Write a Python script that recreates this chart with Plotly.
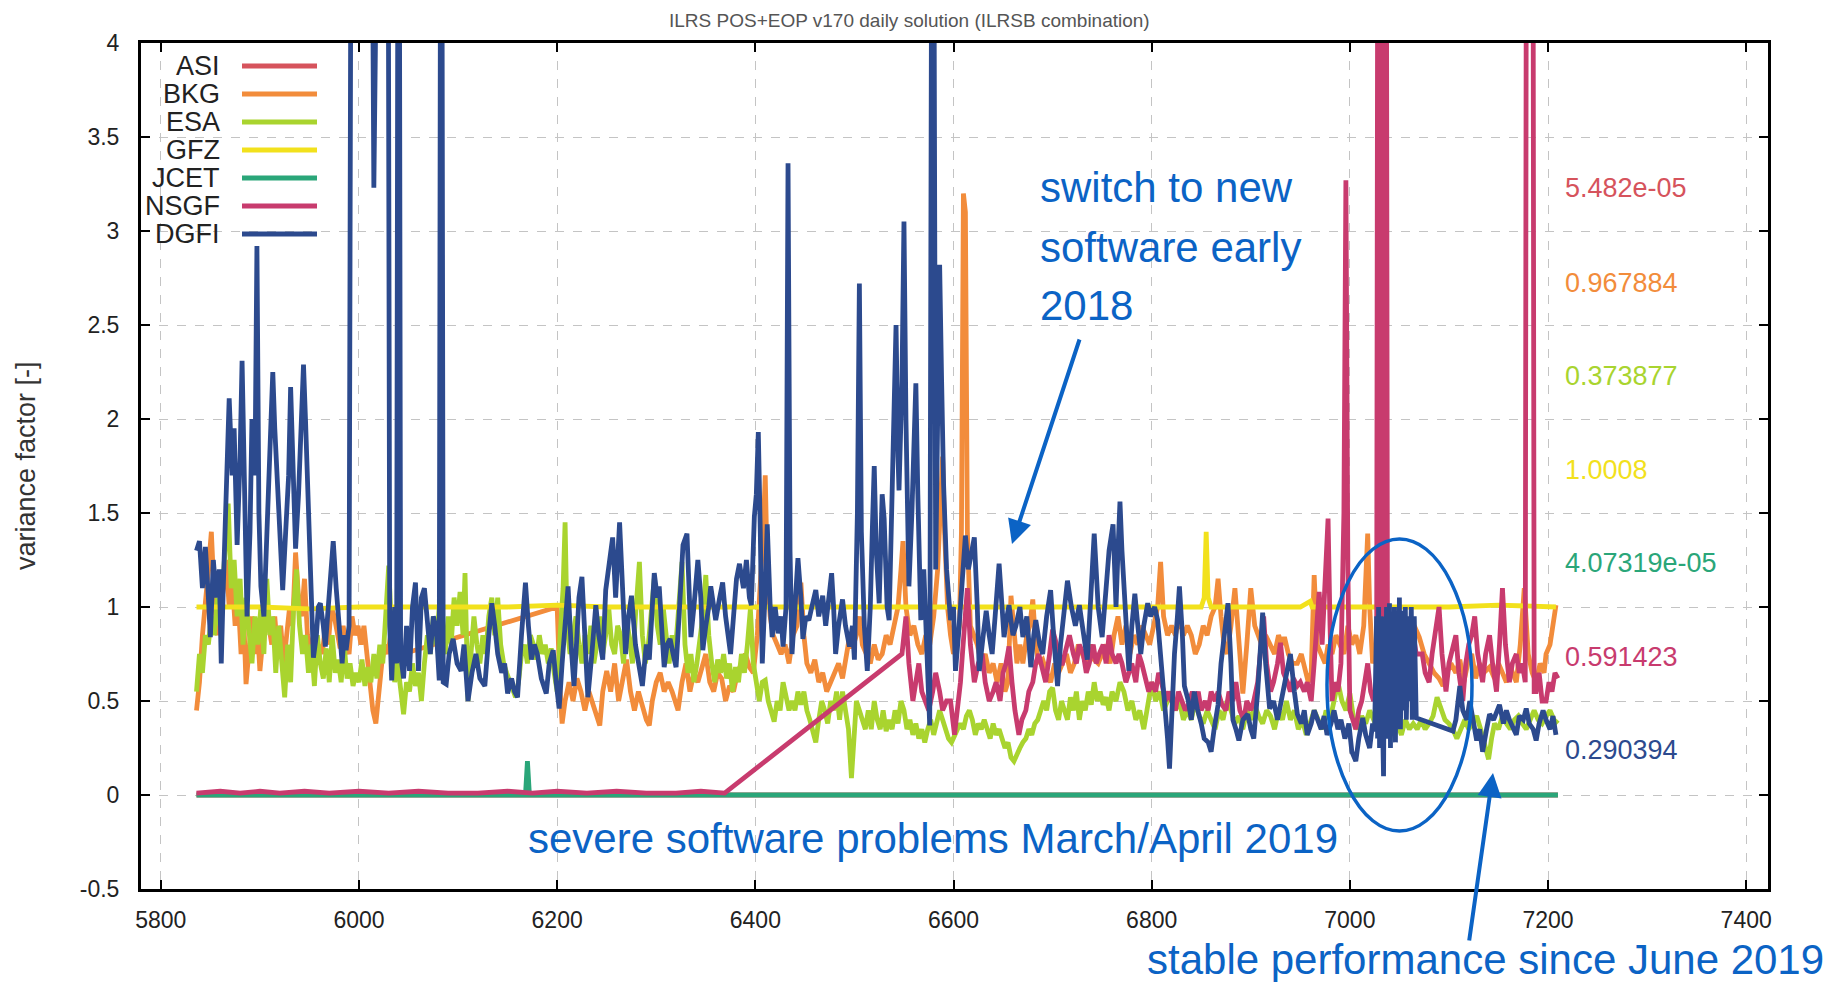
import plotly.graph_objects as go

# ---------------- data (day, variance factor) ----------------
series_names = ["ASI", "BKG", "ESA", "GFZ", "JCET", "NSGF", "DGFI"]
series_colors = ["#d6535c", "#f28c3b", "#a9d42f", "#f2e11c", "#2aa679", "#c83b6e", "#2c4a8e"]
right_labels = ["5.482e-05", "0.967884", "0.373877", "1.0008", "4.07319e-05", "0.591423", "0.290394"]
x_ticks = [5800, 6000, 6200, 6400, 6600, 6800, 7000, 7200, 7400]
y_ticks = [-0.5, 0, 0.5, 1, 1.5, 2, 2.5, 3, 3.5, 4]

asi = [(5836, 0.0), (6400, 0.0), (7210, 0.0)]

jcet = [(5836, 0.0), (6168, 0.0), (6170, 0.18), (6172, 0.0), (7210, 0.0)]

gfz = [(5836, 1.00), (5900, 1.00), (5950, 0.99), (6000, 1.00), (6050, 1.00), (6100, 1.00),
       (6150, 1.00), (6200, 1.01), (6250, 1.00), (6300, 1.00), (6350, 1.00), (6400, 1.00),
       (6450, 1.00), (6500, 1.00), (6550, 1.00), (6600, 1.00), (6650, 1.00), (6700, 1.00),
       (6750, 1.00), (6800, 1.00), (6850, 1.00), (6853, 1.05), (6855, 1.40), (6857, 1.05),
       (6860, 1.00), (6900, 1.00), (6950, 1.00), (6960, 1.03), (6962, 1.00), (7000, 1.00),
       (7050, 1.00), (7100, 1.00), (7150, 1.01), (7200, 1.00), (7208, 1.00)]

bkg = [(5836, 0.45), (5839, 0.60), (5842, 0.85), (5845, 1.00), (5848, 1.20), (5851, 1.40),
       (5854, 1.05), (5857, 0.85), (5860, 0.95), (5863, 1.10), (5866, 1.25), (5869, 1.00),
       (5872, 1.15), (5875, 0.90), (5878, 1.05), (5881, 0.75), (5884, 0.90), (5886, 0.59),
       (5889, 0.80), (5892, 0.95), (5895, 0.75), (5898, 0.85), (5900, 0.66), (5903, 0.85),
       (5906, 1.00), (5909, 0.90), (5912, 0.80), (5915, 0.95), (5918, 0.75), (5921, 0.90),
       (5924, 0.70), (5927, 0.85), (5930, 1.00), (5933, 0.90), (5936, 1.29), (5939, 1.05),
       (5942, 0.95), (5945, 1.15), (5948, 0.85), (5951, 0.75), (5954, 0.85), (5957, 0.70),
       (5960, 0.80), (5963, 0.75), (5966, 0.90), (5969, 0.80), (5972, 1.00), (5975, 0.95),
       (5978, 0.85), (5981, 0.78), (5984, 0.90), (5987, 0.80), (5990, 0.75), (5993, 0.95),
       (5996, 0.85), (5999, 0.90), (6002, 0.80), (6005, 0.90), (6008, 0.75), (6011, 0.60),
       (6014, 0.45), (6017, 0.38), (6020, 0.55), (6023, 0.70), (6026, 0.80), (6029, 0.75),
       (6032, 0.85), (6035, 0.70), (6038, 0.80), (6041, 0.65), (6044, 0.75), (6200, 1.00),
       (6203, 0.55), (6205, 0.38), (6208, 0.50), (6212, 0.60), (6216, 0.50), (6220, 0.62),
       (6224, 0.55), (6228, 0.45), (6232, 0.55), (6236, 0.48), (6240, 0.42), (6243, 0.37),
       (6246, 0.55), (6250, 0.66), (6254, 0.55), (6258, 0.70), (6262, 0.50), (6266, 0.60),
       (6270, 0.72), (6274, 0.55), (6278, 0.45), (6282, 0.55), (6286, 0.48), (6290, 0.40),
       (6293, 0.37), (6296, 0.50), (6300, 0.60), (6304, 0.65), (6308, 0.55), (6312, 0.60),
       (6316, 0.55), (6320, 0.48), (6322, 0.45), (6326, 0.60), (6330, 0.70), (6334, 0.55),
       (6338, 0.65), (6342, 0.60), (6346, 0.68), (6350, 0.75), (6354, 0.60), (6358, 0.55),
       (6362, 0.65), (6366, 0.62), (6370, 0.50), (6374, 0.58), (6378, 0.55), (6382, 0.65),
       (6386, 0.70), (6390, 0.75), (6394, 0.68), (6398, 0.65), (6402, 0.85), (6405, 1.10),
       (6408, 1.40), (6410, 1.70), (6412, 1.20), (6415, 0.95), (6418, 0.85), (6422, 0.80),
       (6426, 0.75), (6430, 0.80), (6434, 0.70), (6438, 0.85), (6442, 0.90), (6446, 1.13),
       (6449, 0.85), (6452, 0.70), (6456, 0.65), (6460, 0.72), (6464, 0.60), (6468, 0.65),
       (6472, 0.55), (6476, 0.60), (6480, 0.65), (6484, 0.70), (6488, 0.62), (6492, 0.75),
       (6495, 0.84), (6498, 0.78), (6502, 0.85), (6505, 0.95), (6508, 0.80), (6512, 0.75),
       (6516, 0.70), (6520, 0.80), (6524, 0.72), (6528, 0.75), (6532, 0.85), (6536, 0.80),
       (6540, 0.90), (6544, 1.00), (6547, 1.20), (6549, 1.35), (6552, 1.00), (6556, 0.85),
       (6560, 0.90), (6564, 0.80), (6568, 0.75), (6572, 0.85), (6576, 0.80), (6580, 0.95),
       (6584, 1.20), (6587, 1.50), (6589, 1.80), (6591, 1.40), (6594, 1.00), (6597, 0.85),
       (6600, 0.75), (6603, 0.80), (6606, 0.90), (6608, 1.40), (6610, 3.20), (6612, 3.10),
       (6614, 1.40), (6617, 0.90), (6620, 0.85), (6624, 0.80), (6628, 0.70), (6632, 0.75),
       (6636, 0.65), (6640, 0.70), (6644, 0.60), (6648, 0.70), (6652, 0.55), (6655, 0.60),
       (6658, 1.06), (6661, 0.85), (6664, 0.70), (6667, 0.80), (6670, 0.70), (6674, 0.85),
       (6677, 0.90), (6680, 1.04), (6683, 0.80), (6686, 0.70), (6690, 0.72), (6694, 0.65),
       (6698, 0.60), (6702, 0.70), (6706, 0.65), (6710, 0.70), (6714, 0.75), (6718, 0.65),
       (6722, 0.70), (6726, 0.80), (6730, 0.75), (6734, 0.70), (6738, 0.80), (6742, 0.72),
       (6746, 0.70), (6750, 0.75), (6754, 0.80), (6758, 0.70), (6762, 0.85), (6766, 0.95),
       (6770, 0.80), (6774, 0.90), (6778, 0.75), (6782, 0.85), (6786, 0.80), (6790, 0.90),
       (6794, 0.85), (6798, 0.80), (6802, 0.90), (6806, 1.00), (6809, 1.24), (6812, 0.95),
       (6816, 0.85), (6820, 0.90), (6824, 0.85), (6828, 0.95), (6832, 0.85), (6836, 0.90),
       (6840, 0.85), (6844, 0.75), (6848, 0.80), (6852, 0.90), (6856, 0.85), (6860, 0.95),
       (6864, 1.00), (6867, 1.15), (6870, 0.95), (6873, 0.80), (6876, 0.75), (6880, 0.90),
       (6884, 1.10), (6888, 0.80), (6892, 0.54), (6896, 0.80), (6900, 1.10), (6904, 0.90),
       (6907, 0.85), (6911, 0.80), (6915, 0.85), (6920, 0.80), (6924, 0.75), (6928, 0.85),
       (6932, 0.80), (6934, 0.84), (6938, 0.75), (6942, 0.70), (6947, 0.70), (6951, 0.75),
       (6955, 0.65), (6958, 0.60), (6961, 0.65), (6964, 1.17), (6967, 0.80), (6971, 0.75),
       (6975, 0.70), (6978, 0.80), (6982, 0.75), (6986, 0.85), (6990, 0.80), (6994, 0.75),
       (6998, 0.90), (7002, 0.80), (7006, 0.85), (7010, 0.75), (7014, 0.90), (7018, 1.39),
       (7020, 1.00), (7023, 0.70), (7027, 0.80), (7032, 0.85), (7036, 0.90), (7040, 0.80),
       (7045, 0.85), (7050, 0.90), (7055, 0.80), (7060, 0.85), (7065, 0.90), (7070, 0.84),
       (7075, 0.75), (7080, 0.70), (7085, 0.65), (7090, 0.62), (7094, 0.58), (7098, 0.65),
       (7102, 0.70), (7107, 0.65), (7111, 0.72), (7115, 0.60), (7119, 0.70), (7123, 0.75),
       (7127, 0.62), (7131, 0.70), (7135, 0.65), (7141, 0.68), (7146, 0.62), (7150, 0.70),
       (7154, 0.65), (7158, 0.60), (7162, 0.68), (7168, 0.60), (7172, 0.80), (7176, 1.10),
       (7180, 0.75), (7184, 0.65), (7188, 0.60), (7192, 0.70), (7196, 0.65), (7198, 0.75),
       (7202, 0.80), (7205, 0.90), (7208, 1.01)]

esa = [(5836, 0.55), (5839, 0.75), (5842, 0.65), (5845, 0.85), (5848, 0.80), (5851, 0.95),
       (5854, 0.85), (5857, 1.05), (5860, 0.90), (5863, 1.20), (5866, 1.40), (5868, 1.55),
       (5871, 1.10), (5874, 1.25), (5877, 0.95), (5880, 1.15), (5883, 0.80), (5886, 1.05),
       (5889, 0.90), (5892, 0.70), (5895, 0.95), (5898, 0.80), (5901, 1.00), (5904, 0.75),
       (5907, 1.15), (5910, 0.85), (5913, 0.95), (5916, 0.65), (5919, 0.90), (5922, 0.70),
       (5925, 0.52), (5928, 0.80), (5931, 0.60), (5934, 1.00), (5937, 1.20), (5940, 0.90),
       (5943, 0.75), (5946, 0.85), (5949, 0.65), (5952, 0.80), (5955, 0.58), (5958, 0.85),
       (5961, 0.70), (5964, 0.62), (5967, 0.78), (5970, 0.60), (5973, 0.85), (5976, 0.65),
       (5979, 0.72), (5982, 0.60), (5985, 0.80), (5988, 0.62), (5991, 0.70), (5994, 0.58),
       (5997, 0.65), (6000, 0.60), (6003, 0.72), (6006, 0.58), (6009, 0.68), (6012, 0.60),
       (6015, 0.75), (6018, 0.62), (6021, 0.80), (6024, 0.70), (6027, 0.95), (6030, 1.22),
       (6033, 0.85), (6036, 0.60), (6039, 0.70), (6042, 0.55), (6045, 0.43), (6048, 0.60),
       (6051, 0.55), (6054, 0.70), (6057, 0.58), (6060, 0.65), (6063, 0.50), (6066, 0.70),
       (6069, 0.85), (6072, 0.75), (6075, 0.95), (6078, 0.80), (6081, 1.00), (6084, 0.85),
       (6087, 0.75), (6090, 0.95), (6093, 0.80), (6096, 1.05), (6099, 0.90), (6102, 1.08),
       (6105, 0.85), (6107, 1.18), (6110, 0.50), (6113, 0.75), (6116, 0.95), (6119, 0.80),
       (6122, 0.70), (6125, 0.85), (6128, 0.75), (6131, 0.95), (6134, 1.05), (6137, 0.85),
       (6140, 1.05), (6143, 0.80), (6146, 0.70), (6149, 0.65), (6152, 0.60), (6155, 0.55),
       (6158, 0.52), (6161, 0.60), (6164, 0.75), (6167, 0.80), (6170, 0.70), (6173, 0.85),
       (6176, 0.80), (6179, 0.72), (6182, 0.85), (6185, 0.75), (6188, 0.80), (6191, 0.70),
       (6194, 0.78), (6197, 0.65), (6200, 0.55), (6203, 0.85), (6206, 1.10), (6208, 1.45),
       (6210, 0.90), (6213, 0.75), (6216, 0.85), (6219, 0.95), (6222, 0.80), (6225, 0.70),
       (6228, 0.85), (6231, 0.75), (6234, 0.90), (6237, 0.70), (6240, 0.80), (6243, 0.95),
       (6246, 0.75), (6249, 0.85), (6252, 1.00), (6255, 0.80), (6258, 0.75), (6261, 0.90),
       (6264, 0.85), (6267, 0.70), (6270, 0.95), (6273, 0.80), (6276, 0.70), (6279, 0.95),
       (6283, 1.24), (6286, 0.85), (6289, 0.70), (6292, 0.80), (6295, 0.95), (6298, 1.15),
       (6301, 0.90), (6304, 0.80), (6307, 1.00), (6310, 0.84), (6313, 0.70), (6316, 0.85),
       (6319, 0.75), (6322, 0.95), (6326, 1.24), (6329, 0.80), (6332, 0.65), (6335, 0.75),
       (6338, 0.60), (6341, 0.70), (6344, 0.85), (6347, 0.95), (6350, 1.17), (6353, 0.85),
       (6356, 0.70), (6359, 0.60), (6362, 0.72), (6365, 0.65), (6368, 0.75), (6371, 0.62),
       (6374, 0.70), (6377, 0.55), (6380, 0.68), (6383, 0.60), (6386, 0.75), (6389, 0.65),
       (6392, 0.80), (6395, 0.99), (6398, 0.70), (6401, 0.60), (6404, 0.50), (6407, 0.60),
       (6410, 0.61), (6413, 0.50), (6416, 0.45), (6419, 0.39), (6422, 0.50), (6425, 0.45),
       (6428, 0.60), (6431, 0.52), (6434, 0.45), (6437, 0.50), (6440, 0.45), (6443, 0.55),
       (6446, 0.48), (6449, 0.55), (6452, 0.45), (6455, 0.40), (6458, 0.35), (6461, 0.28),
       (6464, 0.40), (6467, 0.50), (6470, 0.45), (6473, 0.38), (6476, 0.50), (6479, 0.45),
       (6482, 0.55), (6485, 0.40), (6488, 0.55), (6491, 0.45), (6494, 0.35), (6497, 0.09),
       (6499, 0.30), (6502, 0.50), (6505, 0.45), (6508, 0.40), (6511, 0.35), (6514, 0.45),
       (6517, 0.35), (6520, 0.50), (6523, 0.40), (6526, 0.35), (6529, 0.45), (6532, 0.34),
       (6535, 0.40), (6538, 0.35), (6541, 0.45), (6544, 0.38), (6547, 0.50), (6550, 0.45),
       (6553, 0.35), (6556, 0.40), (6559, 0.32), (6562, 0.38), (6565, 0.30), (6568, 0.35),
       (6571, 0.28), (6574, 0.35), (6577, 0.40), (6580, 0.32), (6583, 0.38), (6586, 0.45),
       (6589, 0.40), (6592, 0.35), (6595, 0.30), (6598, 0.28), (6601, 0.32), (6604, 0.35),
       (6607, 0.38), (6610, 0.35), (6613, 0.42), (6616, 0.45), (6619, 0.40), (6622, 0.32),
       (6625, 0.38), (6628, 0.35), (6631, 0.40), (6634, 0.35), (6637, 0.30), (6640, 0.38),
       (6643, 0.32), (6646, 0.35), (6649, 0.30), (6652, 0.25), (6655, 0.28), (6658, 0.20),
       (6661, 0.18), (6664, 0.22), (6667, 0.25), (6670, 0.28), (6673, 0.30), (6676, 0.35),
       (6679, 0.32), (6682, 0.38), (6685, 0.40), (6688, 0.45), (6691, 0.50), (6694, 0.45),
       (6697, 0.55), (6700, 0.57), (6703, 0.45), (6706, 0.40), (6709, 0.50), (6712, 0.45),
       (6715, 0.40), (6718, 0.52), (6721, 0.45), (6724, 0.55), (6727, 0.40), (6730, 0.50),
       (6733, 0.45), (6736, 0.55), (6739, 0.48), (6742, 0.60), (6745, 0.50), (6748, 0.55),
       (6751, 0.48), (6754, 0.52), (6757, 0.45), (6760, 0.55), (6764, 0.50), (6768, 0.60),
       (6772, 0.55), (6776, 0.45), (6780, 0.50), (6784, 0.40), (6788, 0.45), (6792, 0.35),
       (6796, 0.48), (6800, 0.60), (6804, 0.50), (6808, 0.55), (6812, 0.45), (6816, 0.50),
       (6820, 0.55), (6824, 0.45), (6828, 0.50), (6832, 0.40), (6836, 0.45), (6840, 0.40),
       (6844, 0.50), (6848, 0.42), (6852, 0.38), (6856, 0.45), (6860, 0.40), (6864, 0.35),
       (6868, 0.45), (6872, 0.40), (6876, 0.50), (6880, 0.45), (6884, 0.38), (6888, 0.42),
       (6892, 0.35), (6896, 0.45), (6900, 0.40), (6904, 0.48), (6908, 0.42), (6912, 0.38),
       (6916, 0.45), (6920, 0.42), (6924, 0.35), (6928, 0.45), (6932, 0.40), (6936, 0.50),
       (6940, 0.40), (6944, 0.45), (6948, 0.35), (6952, 0.40), (6956, 0.32), (6960, 0.38),
       (6964, 0.45), (6968, 0.40), (6972, 0.35), (6976, 0.45), (6980, 0.40), (6984, 0.50),
       (6988, 0.60), (6992, 0.50), (6996, 0.45), (7000, 0.54), (7004, 0.40), (7008, 0.35),
       (7012, 0.42), (7016, 0.38), (7020, 0.45), (7024, 0.40), (7028, 0.35), (7032, 0.40),
       (7036, 0.38), (7040, 0.42), (7044, 0.35), (7048, 0.38), (7052, 0.32), (7056, 0.40),
       (7060, 0.35), (7064, 0.38), (7068, 0.35), (7072, 0.40), (7076, 0.35), (7080, 0.38),
       (7084, 0.42), (7088, 0.52), (7092, 0.45), (7096, 0.40), (7100, 0.38), (7104, 0.35),
       (7108, 0.30), (7112, 0.35), (7116, 0.40), (7120, 0.35), (7124, 0.38), (7128, 0.42),
       (7132, 0.35), (7136, 0.28), (7140, 0.19), (7143, 0.30), (7146, 0.38), (7150, 0.35),
       (7154, 0.42), (7158, 0.38), (7162, 0.35), (7166, 0.40), (7170, 0.42), (7174, 0.38),
       (7178, 0.35), (7182, 0.40), (7186, 0.45), (7190, 0.40), (7194, 0.38), (7198, 0.42),
       (7202, 0.45), (7206, 0.40), (7210, 0.38)]

nsgf = [(5836, 0.01), (5860, 0.02), (5880, 0.01), (5900, 0.02), (5920, 0.01), (5945, 0.02),
        (5970, 0.01), (6000, 0.02), (6030, 0.01), (6060, 0.02), (6090, 0.01), (6120, 0.01),
        (6150, 0.02), (6175, 0.01), (6200, 0.02), (6230, 0.01), (6260, 0.02), (6290, 0.01),
        (6320, 0.01), (6345, 0.02), (6369, 0.01), (6548, 0.75), (6550, 0.85), (6552, 0.95),
        (6555, 0.70), (6559, 0.50), (6562, 0.60), (6565, 0.70), (6568, 0.55), (6572, 0.50),
        (6575, 0.45), (6579, 0.55), (6582, 0.65), (6586, 0.55), (6589, 0.45), (6593, 0.50),
        (6597, 0.50), (6601, 0.32), (6604, 0.45), (6607, 0.60), (6609, 0.75), (6612, 0.95),
        (6614, 1.10), (6617, 0.80), (6621, 0.60), (6625, 0.70), (6629, 0.75), (6632, 0.60),
        (6636, 0.50), (6640, 0.55), (6643, 0.60), (6647, 0.50), (6650, 0.65), (6653, 0.70),
        (6656, 0.79), (6659, 0.60), (6662, 0.45), (6666, 0.32), (6669, 0.40), (6673, 0.45),
        (6676, 0.55), (6680, 0.60), (6683, 0.70), (6686, 0.75), (6690, 0.65), (6693, 0.60),
        (6697, 0.75), (6700, 0.88), (6704, 0.80), (6707, 0.70), (6710, 0.70), (6714, 0.80),
        (6717, 0.85), (6721, 0.75), (6724, 0.70), (6727, 0.80), (6731, 0.75), (6734, 0.65),
        (6737, 0.70), (6741, 0.80), (6744, 0.70), (6747, 0.75), (6751, 0.80), (6754, 0.70),
        (6757, 0.85), (6760, 0.75), (6764, 0.70), (6767, 0.75), (6770, 0.70), (6774, 0.60),
        (6777, 0.65), (6780, 0.70), (6784, 0.60), (6787, 0.75), (6790, 0.70), (6794, 0.60),
        (6797, 0.55), (6800, 0.60), (6804, 0.55), (6807, 0.65), (6810, 0.60), (6814, 0.50),
        (6817, 0.55), (6820, 0.50), (6824, 0.45), (6827, 0.55), (6830, 0.50), (6834, 0.45),
        (6837, 0.48), (6841, 0.55), (6844, 0.50), (6847, 0.55), (6850, 0.45), (6854, 0.50),
        (6857, 0.45), (6860, 0.55), (6864, 0.50), (6867, 0.55), (6871, 0.48), (6875, 0.45),
        (6878, 0.55), (6882, 0.50), (6885, 0.60), (6889, 0.45), (6893, 0.40), (6896, 0.50),
        (6900, 0.45), (6903, 0.50), (6907, 0.60), (6910, 0.75), (6913, 0.95), (6916, 0.70),
        (6920, 0.55), (6923, 0.60), (6927, 0.70), (6930, 0.81), (6933, 0.65), (6937, 0.60),
        (6940, 0.55), (6943, 0.62), (6947, 0.58), (6950, 0.60), (6954, 0.55), (6957, 0.60),
        (6961, 0.50), (6964, 0.70), (6967, 0.90), (6969, 1.08), (6972, 0.80), (6975, 1.20),
        (6978, 1.47), (6980, 0.90), (6982, 0.50), (6985, 0.60), (6988, 0.55), (6991, 0.70),
        (6994, 1.50), (6996, 3.27), (6998, 1.20), (7000, 0.45), (7003, 0.40), (7006, 0.35),
        (7009, 0.45), (7012, 0.50), (7015, 0.60), (7018, 0.70), (7021, 0.55), (7024, 0.50),
        (7027, 0.60), (7029, 8.00), (7031, 0.60), (7034, 0.70), (7036, 8.00), (7038, 0.60),
        (7040, 0.75), (7043, 0.65), (7046, 0.80), (7049, 0.70), (7052, 0.85), (7055, 0.75),
        (7058, 0.80), (7061, 0.70), (7064, 0.85), (7067, 0.75), (7070, 0.75), (7073, 0.75),
        (7076, 0.65), (7080, 0.60), (7083, 0.75), (7086, 0.85), (7090, 1.00), (7093, 0.75),
        (7097, 0.55), (7100, 0.70), (7104, 0.80), (7107, 0.85), (7110, 0.65), (7114, 0.50),
        (7117, 0.70), (7120, 0.80), (7123, 0.85), (7126, 0.95), (7129, 0.75), (7132, 0.65),
        (7134, 0.60), (7137, 0.75), (7141, 0.85), (7144, 0.70), (7148, 0.55), (7151, 0.80),
        (7154, 1.10), (7157, 0.80), (7161, 0.60), (7164, 0.70), (7168, 0.75), (7171, 0.65),
        (7174, 0.70), (7177, 0.60), (7179, 8.00), (7184, 8.00), (7186, 0.55), (7188, 0.55),
        (7191, 0.65), (7194, 0.50), (7198, 0.50), (7201, 0.60), (7204, 0.55), (7207, 0.65),
        (7210, 0.62)]

dgfi = [(5836, 1.30), (5839, 1.35), (5842, 1.10), (5845, 1.32), (5848, 1.05), (5850, 0.84),
        (5853, 1.25), (5856, 1.05), (5859, 1.20), (5861, 0.70), (5863, 1.10), (5866, 1.60),
        (5869, 2.11), (5872, 1.70), (5874, 1.95), (5877, 1.33), (5880, 1.80), (5882, 2.31),
        (5885, 1.50), (5887, 0.95), (5890, 1.40), (5892, 2.00), (5895, 1.70), (5897, 2.92),
        (5899, 1.50), (5901, 1.11), (5904, 0.95), (5907, 1.40), (5909, 1.69), (5911, 1.90),
        (5913, 2.25), (5915, 1.95), (5917, 1.74), (5920, 1.30), (5923, 1.09), (5926, 1.40),
        (5929, 1.70), (5931, 2.17), (5934, 1.70), (5936, 1.31), (5939, 1.60), (5942, 2.00),
        (5944, 2.29), (5946, 2.00), (5948, 1.73), (5951, 1.20), (5954, 0.73), (5957, 0.85),
        (5959, 1.00), (5961, 1.02), (5964, 0.90), (5966, 0.79), (5969, 1.00), (5972, 1.20),
        (5974, 1.35), (5977, 1.10), (5980, 0.93), (5983, 0.70), (5985, 0.85), (5987, 0.77),
        (5990, 0.90), (5993, 7.00), (5998, 8.00), (6005, 7.00), (6012, 6.00), (6015, 3.23),
        (6018, 7.00), (6025, 8.00), (6029, 6.00), (6031, 0.90), (6033, 0.61), (6036, 1.00),
        (6038, 0.70), (6040, 7.00), (6042, 0.75), (6045, 0.62), (6048, 0.90), (6051, 0.66),
        (6054, 1.00), (6057, 1.13), (6060, 0.66), (6063, 1.05), (6066, 1.10), (6069, 0.93),
        (6072, 0.75), (6075, 0.95), (6078, 0.88), (6081, 0.61), (6083, 7.00), (6085, 0.60),
        (6088, 0.59), (6091, 0.75), (6095, 0.83), (6099, 0.70), (6103, 0.66), (6106, 0.80),
        (6110, 0.50), (6114, 0.65), (6118, 0.75), (6122, 0.62), (6127, 0.58), (6131, 0.85),
        (6134, 1.02), (6137, 0.90), (6140, 0.75), (6144, 0.65), (6147, 0.70), (6150, 0.54),
        (6154, 0.62), (6157, 0.55), (6160, 0.52), (6164, 0.85), (6168, 1.13), (6171, 0.90),
        (6174, 0.72), (6177, 0.80), (6180, 0.75), (6184, 0.62), (6189, 0.54), (6192, 0.70),
        (6196, 0.77), (6199, 0.60), (6202, 0.46), (6205, 0.70), (6208, 0.95), (6211, 1.11),
        (6214, 0.80), (6217, 0.58), (6220, 0.85), (6222, 1.05), (6225, 1.16), (6228, 0.80),
        (6231, 0.52), (6235, 0.75), (6239, 1.01), (6242, 0.85), (6246, 0.72), (6249, 1.09),
        (6252, 1.20), (6256, 1.37), (6259, 1.05), (6261, 1.30), (6263, 1.45), (6266, 1.10),
        (6269, 0.75), (6272, 0.95), (6275, 1.06), (6279, 0.80), (6282, 0.70), (6286, 0.58),
        (6290, 0.80), (6293, 0.72), (6296, 1.00), (6298, 1.18), (6301, 1.05), (6303, 1.11),
        (6306, 0.85), (6308, 0.68), (6311, 0.80), (6314, 0.83), (6317, 0.75), (6320, 0.68),
        (6323, 0.95), (6327, 1.33), (6331, 1.39), (6333, 1.10), (6335, 0.84), (6338, 1.00),
        (6342, 1.25), (6345, 1.05), (6347, 0.77), (6350, 0.90), (6353, 1.00), (6355, 1.11),
        (6358, 1.00), (6360, 0.93), (6364, 1.05), (6367, 1.13), (6370, 0.95), (6375, 0.75),
        (6378, 0.95), (6381, 1.15), (6384, 1.23), (6388, 1.10), (6391, 1.25), (6394, 1.05),
        (6396, 1.01), (6399, 1.48), (6401, 1.60), (6403, 1.93), (6405, 1.40), (6407, 0.70),
        (6410, 1.10), (6412, 1.44), (6415, 1.00), (6417, 0.84), (6420, 1.00), (6423, 0.86),
        (6426, 0.95), (6428, 0.79), (6431, 1.00), (6433, 3.36), (6435, 1.30), (6437, 0.75),
        (6440, 1.00), (6443, 1.26), (6446, 1.05), (6448, 0.83), (6451, 0.95), (6454, 0.93),
        (6457, 1.00), (6461, 1.09), (6464, 0.95), (6468, 1.06), (6471, 0.90), (6474, 1.05),
        (6477, 1.18), (6479, 1.00), (6481, 0.75), (6484, 0.90), (6488, 1.04), (6491, 0.90),
        (6495, 0.79), (6498, 0.90), (6500, 0.72), (6503, 1.50), (6505, 2.72), (6507, 1.40),
        (6510, 0.90), (6513, 0.66), (6516, 1.00), (6518, 1.40), (6520, 1.75), (6522, 1.30),
        (6525, 1.02), (6528, 1.60), (6530, 1.47), (6533, 1.00), (6535, 0.93), (6538, 1.60),
        (6542, 2.50), (6544, 1.80), (6545, 1.62), (6548, 2.20), (6550, 3.05), (6552, 2.00),
        (6555, 1.11), (6558, 1.50), (6560, 1.90), (6562, 2.19), (6564, 1.60), (6567, 0.93),
        (6570, 1.20), (6572, 0.93), (6574, 0.60), (6576, 0.37), (6579, 7.00), (6582, 1.20),
        (6584, 2.00), (6586, 2.82), (6588, 2.20), (6590, 1.65), (6593, 1.20), (6597, 0.93),
        (6600, 1.00), (6602, 0.66), (6605, 0.85), (6607, 1.02), (6610, 1.20), (6612, 1.38),
        (6615, 1.20), (6618, 1.30), (6621, 1.37), (6624, 1.00), (6626, 0.66), (6630, 0.85),
        (6633, 0.98), (6636, 0.85), (6639, 0.75), (6642, 0.95), (6646, 1.23), (6649, 1.00),
        (6651, 0.84), (6654, 0.95), (6656, 1.01), (6660, 0.85), (6663, 0.90), (6667, 1.00),
        (6670, 0.84), (6674, 0.95), (6678, 0.68), (6681, 0.85), (6683, 0.93), (6687, 0.80),
        (6690, 0.75), (6694, 0.95), (6698, 1.09), (6701, 0.85), (6705, 0.58), (6708, 0.80),
        (6712, 1.00), (6715, 1.14), (6719, 1.00), (6723, 0.90), (6727, 1.01), (6731, 0.85),
        (6735, 0.72), (6738, 1.00), (6742, 1.39), (6746, 1.00), (6750, 0.84), (6754, 1.10),
        (6757, 1.30), (6761, 1.44), (6764, 1.00), (6766, 1.30), (6768, 1.56), (6770, 1.30),
        (6772, 1.11), (6775, 0.85), (6777, 0.66), (6780, 0.90), (6783, 1.07), (6786, 0.90),
        (6789, 0.75), (6792, 0.90), (6796, 1.02), (6799, 0.95), (6803, 1.00), (6806, 0.93),
        (6810, 0.70), (6813, 0.54), (6816, 0.30), (6818, 0.14), (6820, 0.45), (6823, 0.75),
        (6826, 0.95), (6828, 1.11), (6831, 0.85), (6833, 0.58), (6837, 0.50), (6840, 0.40),
        (6843, 0.55), (6846, 0.46), (6850, 0.38), (6853, 0.30), (6857, 0.28), (6860, 0.23),
        (6863, 0.35), (6867, 0.48), (6870, 0.70), (6874, 0.90), (6877, 1.02), (6880, 0.70),
        (6882, 0.40), (6885, 0.35), (6888, 0.29), (6892, 0.40), (6897, 0.43), (6900, 0.35),
        (6903, 0.30), (6907, 0.55), (6910, 0.85), (6912, 0.97), (6915, 0.70), (6919, 0.46),
        (6923, 0.50), (6927, 0.40), (6930, 0.48), (6934, 0.58), (6937, 0.65), (6940, 0.75),
        (6944, 0.55), (6947, 0.43), (6951, 0.38), (6954, 0.45), (6957, 0.32), (6961, 0.38),
        (6964, 0.45), (6967, 0.40), (6971, 0.35), (6974, 0.42), (6977, 0.32), (6981, 0.38),
        (6984, 0.45), (6988, 0.35), (6991, 0.40), (6995, 0.30), (6999, 0.38), (7002, 0.23),
        (7006, 0.18), (7009, 0.30), (7013, 0.41), (7016, 0.32), (7020, 0.25), (7023, 0.38),
        (7025, 0.34), (7027, 0.95), (7028, 0.30), (7029, 1.00), (7030, 0.25), (7031, 0.95),
        (7033, 0.20), (7034, 0.10), (7035, 0.95), (7036, 0.35), (7037, 1.00), (7038, 0.30),
        (7040, 1.02), (7041, 0.25), (7042, 0.95), (7043, 0.35), (7045, 1.00), (7046, 0.28),
        (7047, 0.90), (7049, 0.40), (7050, 1.05), (7051, 0.35), (7053, 0.98), (7054, 0.45),
        (7056, 1.00), (7057, 0.40), (7059, 0.95), (7060, 0.50), (7062, 1.00), (7063, 0.40),
        (7065, 0.95), (7067, 0.41), (7104, 0.34), (7107, 0.40), (7111, 0.58), (7114, 0.45),
        (7118, 0.40), (7121, 0.50), (7125, 0.38), (7128, 0.29), (7131, 0.35), (7134, 0.23),
        (7138, 0.35), (7141, 0.43), (7145, 0.40), (7148, 0.45), (7151, 0.48), (7155, 0.38),
        (7158, 0.45), (7161, 0.40), (7165, 0.35), (7168, 0.32), (7171, 0.42), (7175, 0.40),
        (7178, 0.46), (7181, 0.38), (7185, 0.35), (7188, 0.29), (7191, 0.38), (7195, 0.45),
        (7198, 0.40), (7202, 0.35), (7205, 0.42), (7208, 0.32)]

series_data = [asi, bkg, esa, gfz, jcet, nsgf, dgfi]

# ---------------- layout helpers (page pixel -> paper) ----------------
OFF = 8                      # default body margin of the html page
W, H = 1846 - 2 * OFF, 990 - 2 * OFF
L, T = 141 - OFF, 43 - OFF   # plot-area left/top on the figure
R = W - (1768 - OFF)
B = H - (889 - OFF)
PW, PH = W - L - R, H - T - B


def px(x):
    return (x - OFF - L) / PW


def py(y):
    return (H - B - (y - OFF)) / PH


BLUE = "#0b63c5"
FONT = "Liberation Sans, Arial, sans-serif"

fig = go.Figure()
for name, color, data in zip(series_names, series_colors, series_data):
    fig.add_trace(go.Scatter(
        x=[d for d, v in data], y=[v for d, v in data], mode="lines", name=name,
        line=dict(color=color, width=4.8), showlegend=False, hoverinfo="skip"))

annotations = []
shapes = []

# legend (gnuplot style: label then line sample)
legend_rows = [66, 94, 122, 150, 178, 206, 234]
for name, color, yy in zip(series_names, series_colors, legend_rows):
    annotations.append(dict(x=px(222), y=py(yy), xref="paper", yref="paper", text=name,
                            showarrow=False, xanchor="right", yanchor="middle",
                            font=dict(family=FONT, size=27, color="#222")))
    shapes.append(dict(type="line", xref="paper", yref="paper", x0=px(242), x1=px(317),
                       y0=py(yy), y1=py(yy), line=dict(color=color, width=4.8)))

# right-hand values
right_rows = [188, 283, 376, 470, 563, 657, 750]
for lab, color, yy in zip(right_labels, series_colors, right_rows):
    annotations.append(dict(x=px(1563), y=py(yy), xref="paper", yref="paper", text=lab,
                            showarrow=False, xanchor="left", yanchor="middle",
                            font=dict(family=FONT, size=27, color=color)))

# title and y-axis label
annotations.append(dict(x=px(909), y=py(20), xref="paper", yref="paper",
                        text="ILRS POS+EOP v170 daily solution (ILRSB combination)",
                        showarrow=False, xanchor="center", yanchor="middle",
                        font=dict(family=FONT, size=19, color="#555")))
annotations.append(dict(x=px(26), y=py(466), xref="paper", yref="paper",
                        text="variance factor [-]", textangle=-90, showarrow=False,
                        xanchor="center", yanchor="middle",
                        font=dict(family=FONT, size=27, color="#333")))

# blue commentary
for txt, yy in [("switch to new", 188), ("software early", 247), ("2018", 306)]:
    annotations.append(dict(x=px(1038), y=py(yy), xref="paper", yref="paper", text=txt,
                            showarrow=False, xanchor="left", yanchor="middle",
                            font=dict(family=FONT, size=42, color=BLUE)))
annotations.append(dict(x=px(526), y=py(838), xref="paper", yref="paper",
                        text="severe software problems March/April 2019",
                        showarrow=False, xanchor="left", yanchor="middle",
                        font=dict(family=FONT, size=42, color=BLUE)))
annotations.append(dict(x=px(1145), y=py(990 - OFF + 3), xref="paper", yref="paper",
                        text="stable performance since June 2019",
                        showarrow=False, xanchor="left", yanchor="bottom",
                        font=dict(family=FONT, size=42, color=BLUE)))

# arrows (head at x/y, tail offset in pixels)
annotations.append(dict(x=px(1012), y=py(544), xref="paper", yref="paper", text="",
                        showarrow=True, ax=1080 - 1012, ay=338 - 544, arrowhead=2,
                        arrowsize=1.2, arrowwidth=4, arrowcolor=BLUE, standoff=0))
annotations.append(dict(x=px(1493), y=py(773), xref="paper", yref="paper", text="",
                        showarrow=True, ax=1469 - 1493, ay=942 - 773, arrowhead=2,
                        arrowsize=1.2, arrowwidth=4, arrowcolor=BLUE, standoff=0))

# ellipse
shapes.append(dict(type="circle", xref="paper", yref="paper", x0=px(1327), x1=px(1472),
                   y0=py(831), y1=py(539), line=dict(color=BLUE, width=3.5)))

axis_common = dict(showline=True, linecolor="black", linewidth=3, mirror="ticks",
                   ticks="inside", ticklen=9, tickwidth=2, tickcolor="black",
                   showgrid=True, gridcolor="#c4c4c4", griddash="dash", gridwidth=1,
                   zeroline=False, tickfont=dict(family=FONT, size=23, color="#222"))

fig.update_layout(
    width=W, height=H, margin=dict(l=L, r=R, t=T, b=B, pad=0),
    paper_bgcolor="white", plot_bgcolor="white",
    xaxis=dict(range=[5780, 7422], tickvals=x_ticks, ticktext=[str(v) for v in x_ticks],
               ticklabelstandoff=8, **axis_common),
    yaxis=dict(range=[-0.5, 4], tickvals=y_ticks, ticktext=[f"{v:g}" for v in y_ticks],
               ticklabelstandoff=14, **axis_common),
    annotations=annotations, shapes=shapes,
)

fig.write_html("out.html")
